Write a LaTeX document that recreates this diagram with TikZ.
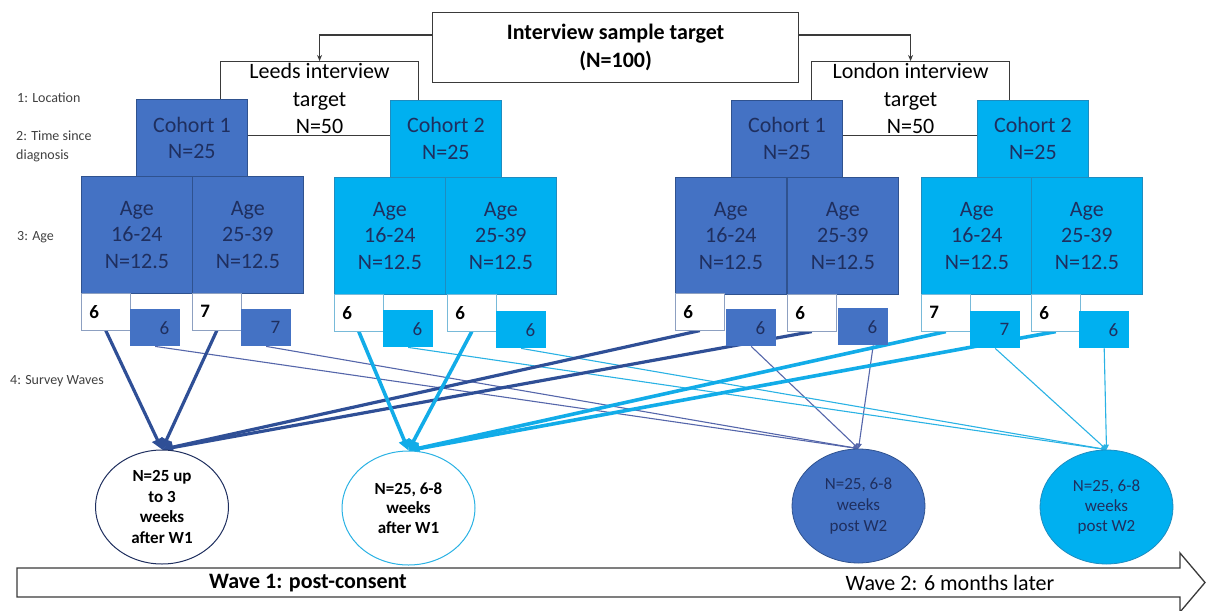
\documentclass[tikz,border=0pt]{standalone}
\usepackage{fontspec}
\setmainfont{Carlito}
\usetikzlibrary{shapes.geometric,arrows.meta,calc,backgrounds}

\definecolor{dk}{HTML}{4472C4}
\definecolor{dkedge}{HTML}{2F528F}
\definecolor{lt}{HTML}{00B0F0}
\definecolor{ltedge}{HTML}{1E8CC0}
\definecolor{navy}{HTML}{1F2F5F}
\definecolor{dkline}{HTML}{2F4F96}
\definecolor{ltline}{HTML}{12ACE8}
\definecolor{thindk}{HTML}{5566AA}
\definecolor{thinlt}{HTML}{2AB2E4}
\definecolor{labelgray}{HTML}{404040}
\definecolor{frame}{HTML}{3A3A3A}

\tikzset{
  box/.style={rectangle, anchor=north west, inner sep=0pt, align=center,
    text=navy, font=\fontsize{22}{26.5}\selectfont},
  dkbox/.style={box, fill=dk, draw=dkedge, line width=0.8pt},
  ltbox/.style={box, fill=lt, draw=ltedge, line width=0.8pt},
  cohortbox/.style={minimum width=111pt, minimum height=77pt},
  agebox/.style={minimum width=111pt, minimum height=117pt},
  headbox/.style={rectangle, draw=frame, fill=white, line width=1.2pt,
    anchor=north west, inner sep=0pt, align=center,
    minimum width=366pt, minimum height=70pt,
    font=\bfseries\fontsize{22}{27.5}\selectfont},
  target/.style={rectangle, draw=frame, fill=white, line width=1.1pt,
    anchor=north west, inner sep=0pt, align=center,
    minimum width=198pt, minimum height=74pt,
    font=\fontsize{22}{27.5}\selectfont},
  tally/.style={rectangle, anchor=north west, fill=white, minimum height=37pt,
    text width=33pt, inner xsep=8pt, inner ysep=0pt, align=left,
    line width=0.6pt, font=\bfseries\fontsize{19}{22}\selectfont},
  tallydk/.style={tally, draw=dkedge!55},
  tallylt/.style={tally, draw=ltedge!60},
  chip/.style={rectangle, anchor=north west, minimum height=37pt,
    text width=28pt, inner xsep=11pt, inner ysep=0pt, align=right,
    text=navy, font=\fontsize{19}{22}\selectfont},
  chipdk/.style={chip, fill=dk},
  chiplt/.style={chip, fill=lt},
  wave/.style={ellipse, minimum width=133pt, minimum height=114pt,
    inner sep=0pt, align=center},
  feed/.style={draw=frame, line width=1.1pt, -{Stealth[length=6pt,width=5pt]}},
  thickdk/.style={draw=dkline, line width=3.2pt, -{Triangle[length=11pt,width=11pt]}},
  thicklt/.style={draw=ltline, line width=3.6pt, -{Triangle[length=11pt,width=11pt]}},
  thindk/.style={draw=thindk, line width=1.1pt, -{Triangle[length=5pt,width=5pt]}},
  thinlt/.style={draw=thinlt, line width=1.1pt, -{Triangle[length=5pt,width=5pt]}},
  level/.style={anchor=west, align=left, text=labelgray, inner sep=0pt,
    font=\fontsize{14}{18.5}\selectfont},
}

\begin{document}
\begin{tikzpicture}[x=1pt,y=-1pt]
\useasboundingbox (0,0) rectangle (1206,610);

% level captions on the left
\node[level] (lv1) at (17,98) {1: Location};
\node[level] (lv2) at (16,146.5) {2: Time since\\diagnosis};
\node[level] (lv3) at (17,237) {3: Age};
\node[level] (lv4) at (10,381) {4: Survey Waves};

% overall target and the two city targets
\node[headbox] (top) at (432,12) {Interview sample target\\(N=100)};
\node[target] (leeds) at (220,61) {Leeds interview\\target\\N=50};
\node[target] (london) at (811,61) {London interview\\target\\N=50};
\draw[feed] ($(top.north west)+(0,23)$) -| (leeds.north);
\draw[feed] ($(top.north east)+(0,23)$) -| (london.north);

% cohorts
\node[dkbox, cohortbox] (lc1) at (136,99) {Cohort 1\\N=25};
\node[ltbox, cohortbox] (lc2) at (390,99.5) {Cohort 2\\N=25};
\node[dkbox, cohortbox] (nc1) at (731,99.5) {Cohort 1\\N=25};
\node[ltbox, cohortbox] (nc2) at (977,99.5) {Cohort 2\\N=25};

% age groups
\node[dkbox, agebox] (lc1a) at (81,176) {Age\\16-24\\N=12.5};
\node[dkbox, agebox] (lc1b) at (192,176) {Age\\25-39\\N=12.5};
\node[ltbox, agebox] (lc2a) at (334,177) {Age\\16-24\\N=12.5};
\node[ltbox, agebox] (lc2b) at (445,177) {Age\\25-39\\N=12.5};
\node[dkbox, agebox] (nc1a) at (675,177) {Age\\16-24\\N=12.5};
\node[dkbox, agebox] (nc1b) at (787,177) {Age\\25-39\\N=12.5};
\node[ltbox, agebox] (nc2a) at (921,177) {Age\\16-24\\N=12.5};
\node[ltbox, agebox] (nc2b) at (1031,177) {Age\\25-39\\N=12.5};

% split of each age group over the two survey waves
\node[tallydk] (lc1aw) at (81,293) {6};
\node[chipdk]  (lc1ac) at (130,309) {6};
\node[tallydk] (lc1bw) at (192,293) {7};
\node[chipdk]  (lc1bc) at (241,309) {7};
\node[tallylt] (lc2aw) at (334,294) {6};
\node[chiplt]  (lc2ac) at (383,310) {6};
\node[tallylt] (lc2bw) at (447,294) {6};
\node[chiplt]  (lc2bc) at (496,311) {6};
\node[tallydk] (nc1aw) at (675,293) {6};
\node[chipdk]  (nc1ac) at (726,309) {6};
\node[tallydk] (nc1bw) at (787,294) {6};
\node[chipdk]  (nc1bc) at (838,308) {6};
\node[tallylt] (nc2aw) at (921,294) {7};
\node[chiplt]  (nc2ac) at (970,311) {7};
\node[tallylt] (nc2bw) at (1031,294) {6};
\node[chiplt]  (nc2bc) at (1079,311) {6};

% interview rounds
\node[wave, draw=navy, fill=white, line width=1pt,
  font=\bfseries\fontsize{17}{20.7}\selectfont] (e1) at (162,507)
  {N=25 up\\to 3\\weeks\\after W1};
\node[wave, draw=thinlt, fill=white, line width=1pt,
  font=\bfseries\fontsize{17}{19.5}\selectfont] (e2) at (408.5,508)
  {N=25, 6-8\\weeks\\after W1};
\node[wave, draw=dkedge, fill=dk, line width=0.8pt, text=navy,
  font=\fontsize{17}{21}\selectfont] (e3) at (858.5,506)
  {N=25, 6-8\\weeks\\post W2};
\node[wave, draw=ltedge, fill=lt, line width=0.8pt, text=navy,
  font=\fontsize{17}{20}\selectfont] (e4) at (1106.5,507)
  {N=25, 6-8\\weeks\\post W2};

% timeline arrow
\draw[frame, line width=1.3pt, fill=white]
  (17,568) -- (1180,568) -- (1180,553) -- (1205,582.5) -- (1180,612)
  -- (1180,597) -- (17,597) -- cycle;
\node[font=\bfseries\fontsize{22}{26}\selectfont] (w1) at (308,583) {Wave 1: post-consent};
\node[font=\fontsize{22}{26}\selectfont] (w2) at (950,583) {Wave 2: 6 months later};

% allocation lines, kept behind the boxes
\begin{scope}[on background layer]
  \draw[thindk] (lc1ac.south) -- (e3.north);
  \draw[thindk] (lc1bc.south) -- (e3.north);
  \draw[thindk] (nc1ac.south) -- (e3.north);
  \draw[thindk] ($(nc1bc.south)+(10,0)$) -- (e3.north);
  \draw[thinlt] (lc2ac.south) -- (e4.north);
  \draw[thinlt] (lc2bc.south) -- (e4.north);
  \draw[thinlt] (nc2ac.south) -- (e4.north);
  \draw[thinlt] (nc2bc.south) -- (e4.north);
  \draw[thickdk] (lc1aw.south) -- (e1.north);
  \draw[thickdk] (lc1bw.south) -- (e1.north);
  \draw[thickdk] (nc1aw.south) -- (e1.north);
  \draw[thickdk] (nc1bw.south) -- (e1.north);
  \draw[thicklt] (lc2aw.south) -- (e2.north);
  \draw[thicklt] (lc2bw.south) -- (e2.north);
  \draw[thicklt] (nc2aw.south) -- (e2.north);
  \draw[thicklt] (nc2bw.south) -- (e2.north);
\end{scope}
\end{tikzpicture}
\end{document}
